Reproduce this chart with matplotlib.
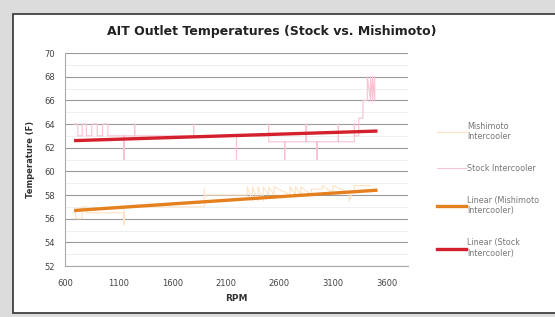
import numpy as np
import matplotlib.pyplot as plt
from matplotlib.patches import Rectangle

# Stock intercooler samples (rpm, outlet temp F)
stock_rpm = [680, 720, 720, 760, 760, 800, 800, 850, 850, 900, 900, 950, 950, 1000,
             1000, 1150, 1150, 1150, 1250, 1250, 1250, 1800, 1800, 1800, 2200, 2200,
             2200, 2500, 2500, 2500, 2650, 2650, 2650, 2850, 2850, 2850, 2950, 2950,
             2950, 3150, 3150, 3150, 3300, 3300, 3300, 3340, 3340, 3380, 3380, 3420,
             3420, 3450, 3450, 3470, 3470, 3490, 3490]
stock_temp = [64, 64, 63, 63, 64, 64, 63, 63, 64, 64, 63, 63, 64, 64,
              63, 63, 61, 63, 63, 64, 63, 63, 64, 63, 63, 61,
              63, 63, 64, 62.5, 62.5, 61, 62.5, 62.5, 64, 62.5, 62.5, 61,
              62.5, 62.5, 64, 62.5, 62.5, 64, 63, 63, 64.5, 64.5, 66, 66,
              68, 66, 68, 66, 68, 66, 68]

# Mishimoto intercooler samples
mish_rpm = [680, 700, 700, 760, 760, 800, 800, 1150, 1150, 1150, 1900, 1900, 1900,
            2300, 2300, 2350, 2350, 2400, 2400, 2450, 2450, 2500, 2500, 2550, 2550,
            2700, 2700, 2750, 2750, 2800, 2800, 2900, 2900, 3000, 3000, 3100, 3100,
            3250, 3250, 3300, 3300, 3450]
mish_temp = [56.5, 56.5, 56, 56, 57, 57, 56.5, 56.5, 55.5, 57, 57, 58.5, 58,
             58, 58.7, 57.5, 58.7, 57.5, 58.7, 57.5, 58.7, 58, 58.7, 58, 58.7,
             58, 58.7, 58, 58.7, 58, 58.7, 58, 58.5, 58.5, 58.8, 58.2, 58.8,
             58.2, 57.5, 58.5, 58.8, 58.8]

# Linear trend endpoints
trend_rpm = [700, 3500]
stock_trend = [62.6, 63.4]
mish_trend = [56.7, 58.4]

fig = plt.figure(figsize=(5.55, 3.17), dpi=100, facecolor='#dcdcdc')
fig.patches.append(Rectangle((13/555, 1 - 313/317), 1.0, (313 - 14)/317,
                             transform=fig.transFigure, facecolor='white',
                             edgecolor='#333333', linewidth=1.2, zorder=-1))

ax = fig.add_axes([65/555, 1 - 266/317, (408 - 65)/555, (266 - 53)/317])
ax.set_facecolor('white')

ax.plot(mish_rpm, mish_temp, color='#fde2c4', lw=0.8, label='Mishimoto\nIntercooler')
ax.plot(stock_rpm, stock_temp, color='#f8c2d0', lw=0.8, label='Stock Intercooler')
ax.plot(trend_rpm, mish_trend, color='#e5801f', lw=2.4, label='Linear (Mishimoto\nIntercooler)')
ax.plot(trend_rpm, stock_trend, color='#d4202c', lw=2.4, label='Linear (Stock\nIntercooler)')

ax.set_xlim(600, 3800)
ax.set_ylim(52, 70)
ax.set_xticks(np.arange(600, 3601, 500))
ax.set_yticks(np.arange(52, 71, 2))
ax.set_yticks(np.arange(53, 70, 2), minor=True)
ax.grid(axis='y', which='major', color='#9a9a9a', lw=0.8)
ax.grid(axis='y', which='minor', color='#ececec', lw=0.6)
ax.set_axisbelow(True)
for s in ['top', 'right']:
    ax.spines[s].set_visible(False)
ax.spines['left'].set_color('#aaaaaa')
ax.spines['bottom'].set_color('#aaaaaa')
ax.tick_params(axis='x', labelsize=6, colors='#444444', length=0, pad=9)
ax.tick_params(axis='y', labelsize=6, colors='#444444', length=0, pad=7)
ax.tick_params(which='minor', length=0)

ax.set_xlabel('RPM', fontsize=6.5, fontweight='bold', color='#333333', labelpad=5)
ax.set_ylabel('Temperature (F)', fontsize=6, fontweight='bold', color='#333333', labelpad=7)
fig.text(272/555, 1 - 32/317, 'AIT Outlet Temperatures (Stock vs. Mishimoto)', ha='center',
         va='center', fontsize=9, fontweight='bold', color='#222222')

leg = ax.legend(loc='center left', bbox_to_anchor=(1.085, 0.358), frameon=False,
                fontsize=5.8, handlelength=3.6, labelspacing=2.85, handletextpad=0.15,
                borderpad=0, borderaxespad=0)
for t in leg.get_texts():
    t.set_color('#777777')

fig.savefig('out.png', dpi=100, facecolor=fig.get_facecolor())
